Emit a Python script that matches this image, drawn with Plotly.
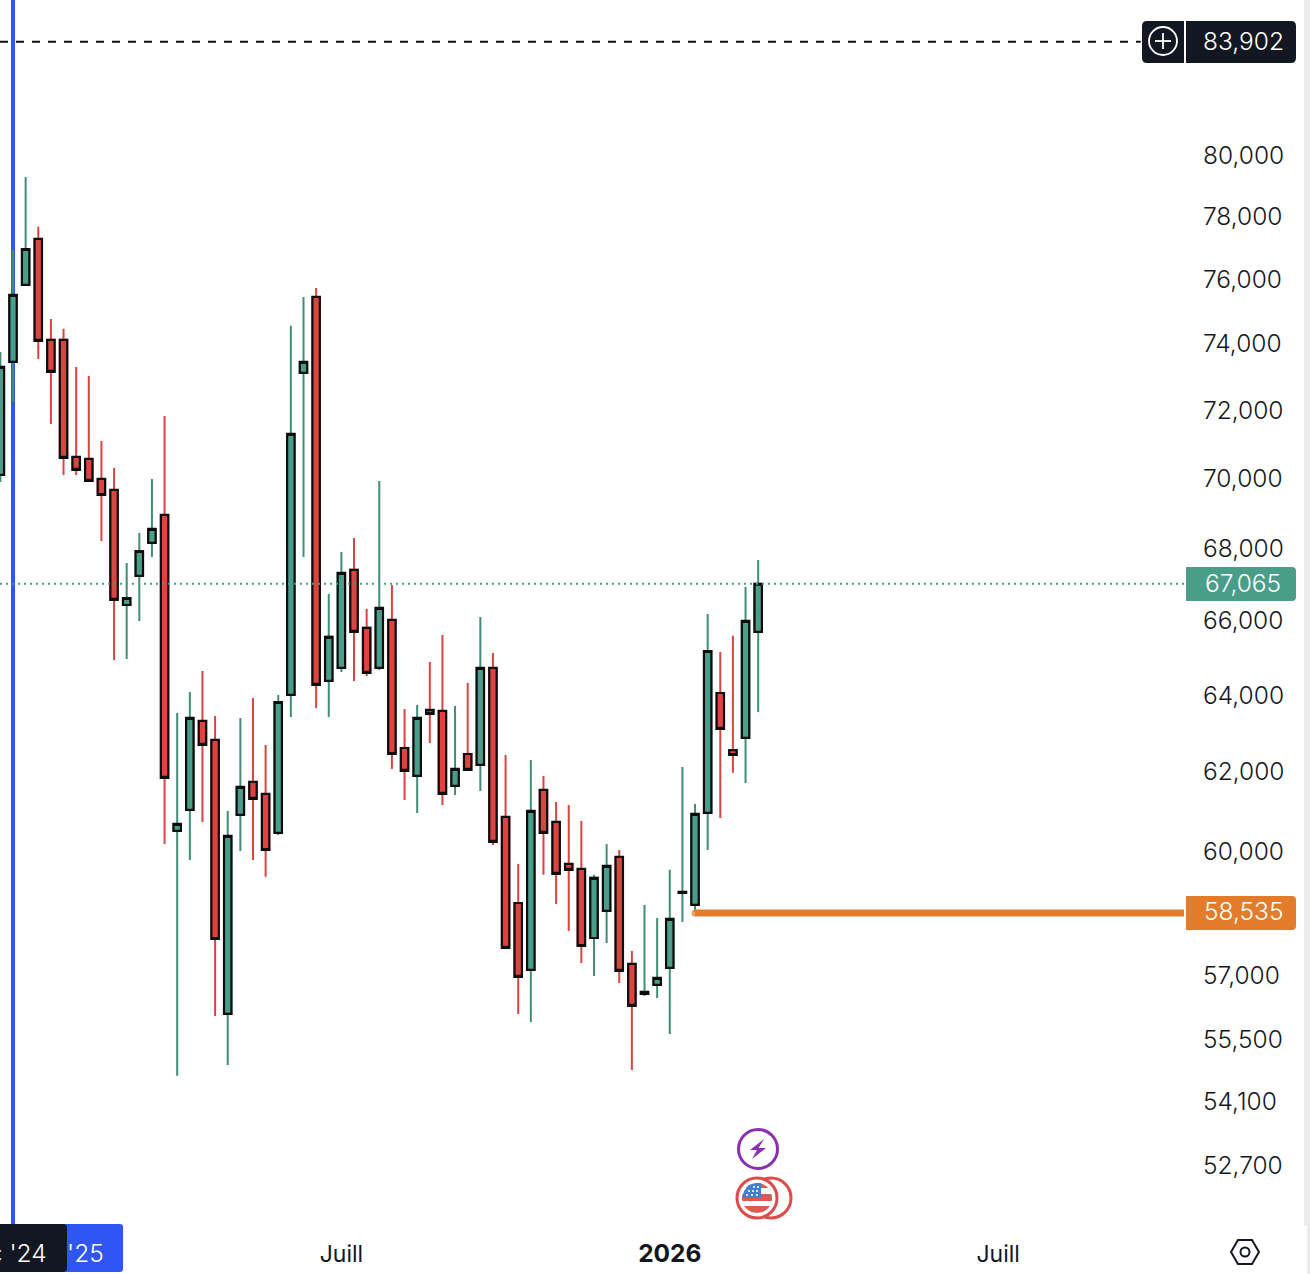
import numpy as np
import pandas as pd
import plotly.graph_objects as go

# weekly candles
dates = pd.date_range("2024-12-23", periods=61, freq="7D")
open_ = [70151, 73504, 75883, 77338, 74177, 74177, 70673, 70615, 70035, 69717, 66479, 67284, 68205, 69000, 60553, 61080,
         63370, 62874, 56142, 60955, 61792, 61485, 60503, 64053, 73172, 75505, 64426, 64773, 67451, 65854, 64773, 66071,
         62664, 61946, 63657, 63631, 61690, 62509, 62227, 64773, 60904, 58776, 57172, 61587, 60779, 59733, 59610, 57932,
         58583, 59905, 57314, 56608, 56820, 57219, 59020, 58728, 61005, 64105, 62611, 62926, 65744]
high = [73806, 76984, 79345, 77724, 74823, 74515, 73353, 73081, 71142, 70354, 67645, 68489, 70035, 71882, 63579, 64132,
        64693, 63500, 61055, 63448, 63973, 62744, 64053, 74608, 75505, 75788, 66783, 67951, 68347, 66371, 69977, 67034,
        63683, 63788, 64933, 65663, 63762, 64372, 66153, 65173, 62483, 59733, 62355, 61946, 61281, 61206, 60804, 59463,
        60227, 60077, 57621, 58728, 58414, 59586, 62176, 61231, 66235, 65200, 65636, 66978, 67729]
low = [69948, 72296, 75883, 73595, 71645, 70151, 70151, 69977, 68261, 64986, 65013, 66044, 67812, 60227, 54723, 59831,
       60779, 56096, 54971, 60052, 59831, 59415, 60453, 63474, 67812, 63709, 63474, 64666, 64426, 64559, 64719, 62125,
       61332, 61005, 62795, 61206, 61460, 62099, 61562, 60202, 57696, 56142, 55957, 59463, 58752, 58101, 57337, 57031,
       57813, 56867, 54858, 56561, 56513, 55681, 58318, 58559, 60077, 60879, 62023, 61766, 63605]
close = [73353, 75568, 77016, 74146, 73202, 70644, 70296, 69977, 69571, 66617, 66672, 67979, 68602, 61894, 60729, 63448,
         62744, 57908, 60428, 61664, 61358, 60077, 63866, 71349, 73504, 64319, 65609, 67367, 65744, 64639, 66398, 62509,
         62074, 63448, 63553, 61485, 62125, 62099, 64773, 60277, 57696, 57007, 61055, 60503, 59488, 59586, 57740, 59390,
         59684, 57149, 56327, 56655, 56983, 58390, 59045, 60980, 65227, 63161, 62483, 66044, 67065]

y_ticks = [80000, 78000, 76000, 74000, 72000, 70000, 68000, 66000, 64000, 62000, 60000, 57000, 55500, 54100, 52700]
x_ticks = ["2025-06-30", "2025-12-29", "2026-06-29"]
x_labels = ["Juill", "<span style='font-size:24.5px'><b>2026</b></span>", "Juill"]

alert_price = 83902
last_price = 67065
level_price = 58535
level_start = "2026-01-12"
cursor_date = "2024-12-30"
x_start = "2024-12-22 19:00"
x_end = "2026-10-10"
dash_end = "2026-09-16"

GREEN = "#4a9e89"
GREEN_WICK = "#3f8f78"
RED = "#db4441"
BLACK = "#131722"
BLUE = "#2f55f5"
ORANGE = "#e27c2a"
PURPLE = "#8a2fae"
FONT = "Inter"

PLOT_R = 1184
PLOT_B = 1226


# helpers for the chrome around the chart, given in page pixels
def px(x):
    return x / PLOT_R


def py(y):
    return (PLOT_B - y) / PLOT_B


def poly(points):
    return "M " + " L ".join(f"{px(x):.5f} {py(y):.5f}" for x, y in points) + " Z"


def round_rect(x0, y0, x1, y1, r_left, r_right):
    p = f"M {px(x0 + r_left):.5f} {py(y0):.5f} L {px(x1 - r_right):.5f} {py(y0):.5f} "
    p += f"Q {px(x1):.5f} {py(y0):.5f} {px(x1):.5f} {py(y0 + r_right):.5f} "
    p += f"L {px(x1):.5f} {py(y1 - r_right):.5f} Q {px(x1):.5f} {py(y1):.5f} {px(x1 - r_right):.5f} {py(y1):.5f} "
    p += f"L {px(x0 + r_left):.5f} {py(y1):.5f} Q {px(x0):.5f} {py(y1):.5f} {px(x0):.5f} {py(y1 - r_left):.5f} "
    p += f"L {px(x0):.5f} {py(y0 + r_left):.5f} Q {px(x0):.5f} {py(y0):.5f} {px(x0 + r_left):.5f} {py(y0):.5f} Z"
    return p


def path_shape(path, fill=None, line=None, width=0):
    return dict(type="path", xref="paper", yref="paper", path=path, fillcolor=fill or "rgba(0,0,0,0)",
                line=dict(color=line or "rgba(0,0,0,0)", width=width), layer="above")


def circle(cx, cy, r, fill=None, line=None, width=0):
    return dict(type="circle", xref="paper", yref="paper", x0=px(cx - r), x1=px(cx + r), y0=py(cy + r), y1=py(cy - r),
                fillcolor=fill or "rgba(0,0,0,0)", line=dict(color=line or "rgba(0,0,0,0)", width=width), layer="above")


def seg(x0, y0, x1, y1, color, width):
    return dict(type="line", xref="paper", yref="paper", x0=px(x0), x1=px(x1), y0=py(y0), y1=py(y1),
                line=dict(color=color, width=width), layer="above")


def band(cx, cy, r, y0, y1, x_min=None):
    # slice of a disc between two heights, for the little flag
    ys = np.linspace(y0, y1, 8)
    half = np.sqrt(np.maximum(r ** 2 - (ys - cy) ** 2, 0))
    right = [(cx + h, y) for h, y in zip(half, ys)]
    left = [(cx - h if x_min is None else max(cx - h, x_min), y) for h, y in zip(half[::-1], ys[::-1])]
    return poly(right + left)


def label(x, y, text, color="white", size=24.5, anchor="center"):
    return dict(xref="paper", yref="paper", x=px(x), y=py(y), text=text, showarrow=False, xanchor=anchor,
                yanchor="middle", font=dict(family=FONT, size=size, color=color, weight=300))


fig = go.Figure()

# wicks first, then the bodies on top with their black outline
fig.add_trace(go.Candlestick(x=dates, open=open_, high=high, low=low, close=close, whiskerwidth=0,
                             increasing=dict(line=dict(color=GREEN_WICK, width=2), fillcolor=GREEN),
                             decreasing=dict(line=dict(color=RED, width=2), fillcolor=RED)))
fig.add_trace(go.Candlestick(x=dates, open=open_, close=close,
                             high=[max(o, c) for o, c in zip(open_, close)],
                             low=[min(o, c) for o, c in zip(open_, close)], whiskerwidth=0,
                             increasing=dict(line=dict(color="#0c0c0c", width=2.2), fillcolor=GREEN),
                             decreasing=dict(line=dict(color="#0c0c0c", width=2.2), fillcolor=RED)))

fig.add_trace(go.Scatter(x=[x_start, dash_end], y=[alert_price, alert_price], mode="lines",
                         line=dict(color="#111111", width=2, dash="8px,8px")))
fig.add_trace(go.Scatter(x=[x_start, x_end], y=[last_price, last_price], mode="lines",
                         line=dict(color=GREEN, width=2, dash="2px,4px")))
fig.add_trace(go.Scatter(x=[level_start, x_end], y=[level_price, level_price], mode="lines+markers",
                         line=dict(color=ORANGE, width=7), marker=dict(color=ORANGE, size=[7, 0], line=dict(width=0))))

shapes = [
    # blue cursor line
    dict(type="line", xref="x", yref="paper", x0=cursor_date, x1=cursor_date, y0=0, y1=1,
         line=dict(color=BLUE, width=4), layer="below"),
    # scrollbar strip
    dict(type="rect", xref="paper", yref="paper", x0=px(1304), x1=px(1310), y0=py(1226), y1=py(0),
         fillcolor="#ececec", line=dict(width=0), layer="above"),
    dict(type="rect", xref="paper", yref="paper", x0=px(1307), x1=px(1310), y0=py(1274), y1=py(1226),
         fillcolor="#ececec", line=dict(width=0), layer="above"),
    # price tags
    path_shape(round_rect(1142, 21, 1296, 63, 5, 5), fill=BLACK),
    seg(1185, 21, 1185, 63, "white", 2),
    circle(1163, 41, 14, line="white", width=1.8),
    seg(1155, 41, 1171, 41, "white", 1.8),
    seg(1163, 33, 1163, 49, "white", 1.8),
    path_shape(round_rect(1186, 567, 1296, 601, 0.1, 4), fill=GREEN),
    path_shape(round_rect(1186, 896, 1296, 930, 0.1, 4), fill=ORANGE),
    # date tags at the bottom
    path_shape(round_rect(-6, 1224, 123, 1272, 0.1, 3), fill=BLUE),
    path_shape(round_rect(-6, 1224, 67, 1272, 0.1, 4), fill=BLACK),
    # settings icon
    path_shape(poly([(1231, 1252), (1238, 1240), (1252, 1240), (1259, 1252), (1252, 1264), (1238, 1264)]),
               line=BLACK, width=2),
    circle(1245, 1252, 4.5, line=BLACK, width=2),
    # event icons
    circle(758, 1149, 19.5, fill="white", line=PURPLE, width=3),
    path_shape(poly([(764, 1139), (750, 1150), (757, 1150), (752, 1159), (766, 1148), (758.5, 1148)]), fill=PURPLE),
    circle(771, 1198, 20, fill="white", line="#dd4b4b", width=3),
    circle(757, 1198, 20, fill="white", line="#dd4b4b", width=3),
    path_shape(band(757, 1198, 15, 1183, 1188), fill="#dd5a52"),
    path_shape(band(757, 1198, 15, 1194, 1201), fill="#dd5a52"),
    path_shape(band(757, 1198, 15, 1206, 1213), fill="#dd5a52"),
    path_shape(poly([(742, 1198), (744, 1191), (749, 1185), (757, 1183), (761, 1183), (761, 1198)]), fill="#3f7fd6"),
]
# stars of the flag
for sx, sy in [(754, 1187), (758, 1187), (749, 1191), (753, 1191), (757, 1191), (747, 1195), (752, 1195), (757, 1195)]:
    shapes.append(circle(sx, sy, 1.1, fill="white"))

annotations = [
    label(1243, 41, f"{alert_price:,}"),
    label(1243, 583, f"{last_price:,}"),
    label(1243, 911, f"{level_price:,}"),
    label(48.5, 1253, "Dec '24", anchor="right"),
    label(86, 1253, "'25"),
]

fig.update_layout(
    width=1310, height=1274,
    margin=dict(l=0, r=1310 - PLOT_R, t=0, b=1274 - PLOT_B),
    paper_bgcolor="white", plot_bgcolor="white",
    showlegend=False, boxgap=0.16, hovermode=False,
    font=dict(family=FONT, size=23, color=BLACK),
    shapes=shapes, annotations=annotations,
)
fig.update_xaxes(type="date", range=[x_start, x_end], rangeslider_visible=False, showgrid=False, zeroline=False,
                 showline=False, ticks="", tickmode="array", tickvals=x_ticks, ticktext=x_labels,
                 ticklabelstandoff=12, tickangle=0, tickfont=dict(family=FONT, size=23, color=BLACK))
fig.update_yaxes(type="log", side="right", range=[np.log10(51431), np.log10(85363)], showgrid=False, zeroline=False,
                 showline=False, ticks="", tickmode="array", tickvals=y_ticks,
                 ticktext=[f"{v:,}" for v in y_ticks], ticklabelstandoff=18, ticklabelshift=-2,
                 tickfont=dict(family=FONT, size=24.5, color=BLACK, weight=300))

fig.write_html("out.html", config=dict(displayModeBar=False), post_script="document.body.style.margin='0';")
